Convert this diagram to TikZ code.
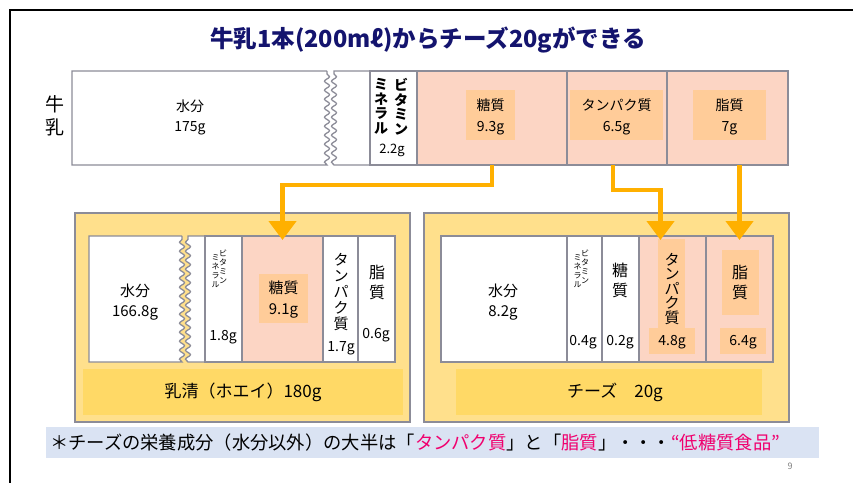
\documentclass[tikz,border=0pt]{standalone}
\usepackage{fontspec}
\setmainfont{Noto Sans CJK JP}
\usetikzlibrary{arrows.meta,decorations.pathmorphing,calc}
\definecolor{pinkfill}{RGB}{252,213,196}
\definecolor{labelbox}{RGB}{255,204,153}
\definecolor{yellowbg}{RGB}{255,224,140}
\definecolor{bandcol}{RGB}{255,217,102}
\definecolor{arrowcol}{RGB}{255,176,0}
\definecolor{titlecol}{RGB}{20,20,110}
\definecolor{footerbg}{RGB}{218,227,243}
\definecolor{pinktext}{RGB}{240,0,110}
\definecolor{bordercol}{RGB}{140,140,152}
\tikzset{
  segline/.style={draw=bordercol, line width=1.3pt},
  seg/.style={segline, inner sep=0, outer sep=0, anchor=north west},
  lbox/.style={fill=labelbox, inner sep=0, outer sep=0, draw=none},
  txt/.style={inner sep=0, outer sep=0, align=center},
  wave/.style={decoration={snake, amplitude=2.5pt, segment length=9pt}},
  arr/.style={draw=arrowcol, line width=4.5pt, line join=miter, -{Triangle[width=27pt,length=19pt]}},
}
\newcommand{\fs}[2]{\fontsize{#1}{#2}\selectfont}
\begin{document}
\begin{tikzpicture}[x=1pt,y=-1pt]
\useasboundingbox (0,0) rectangle (853,482);
% frame
\draw[line width=2.2pt] (10,483) -- (10,10) -- (854,10);
% title
\node[txt, text=titlecol, font=\fs{23.5}{26}\bfseries] (title) at (428,40) {牛乳1本(200mℓ)からチーズ20gができる};

% ===== top row (milk)
\node[txt, font=\fs{19}{23}] (milklbl) at (55,116) {牛\\乳};
\draw[segline, fill=white] (327,71) -- (72,71) -- (72,165) -- (327,165) decorate[wave]{-- (327,71)};
\draw[segline, fill=white] (334,165) decorate[wave]{-- (334,71)} -- (370,71) -- (370,165) -- cycle;
\node[seg, fill=white, minimum width=47, minimum height=94] (tvit) at (370,71) {};
\node[seg, fill=pinkfill, minimum width=150, minimum height=94] (tsugar) at (417,71) {};
\node[seg, fill=pinkfill, minimum width=100, minimum height=94] (tprot) at (567,71) {};
\node[seg, fill=pinkfill, minimum width=121, minimum height=94] (tfat) at (667,71) {};
\node[txt, font=\fs{14}{20}] (twater) at (190,117) {水分\\175g};
\node[txt, font=\fs{14}{14.5}\bfseries] (tvit1) at (401,106.5) {ビ\\タ\\ミ\\ン};
\node[txt, font=\fs{14}{14.5}\bfseries] (tvit2) at (381,106.5) {ミ\\ネ\\ラ\\ル};
\node[txt, font=\fs{13}{15}] (tvitg) at (392,150) {2.2g};
\node[lbox, minimum width=49, minimum height=50] (lsugar) at (490.5,115) {};
\node[lbox, minimum width=93, minimum height=50] (lprot) at (616.5,115) {};
\node[lbox, minimum width=73, minimum height=50] (lfat) at (729.5,115) {};
\node[txt, font=\fs{14}{21}] (tsugart) at (490.5,117) {糖質\\9.3g};
\node[txt, font=\fs{14}{21}] (tprott) at (616.5,117) {タンパク質\\6.5g};
\node[txt, font=\fs{14}{21}] (tfatt) at (729.5,117) {脂質\\7g};

% ===== whey box
\node[seg, fill=yellowbg, minimum width=335, minimum height=209] (wbox) at (75,213) {};
\draw[segline, fill=white] (182,236) -- (89,236) -- (89,362) -- (182,362) decorate[wave]{-- (182,236)};
\draw[segline, fill=white] (188,362) decorate[wave]{-- (188,236)} -- (205,236) -- (205,362) -- cycle;
\node[seg, fill=white, minimum width=37, minimum height=126] (wvit) at (205,236) {};
\node[seg, fill=pinkfill, minimum width=81, minimum height=126] (wsugar) at (242,236) {};
\node[seg, fill=white, minimum width=35, minimum height=126] (wprot) at (323,236) {};
\node[seg, fill=white, minimum width=37, minimum height=126] (wfat) at (358,236) {};
\node[fill=bandcol, inner sep=0, anchor=north west, minimum width=320, minimum height=46] (wband) at (83,369) {};
\node[txt, font=\fs{17}{20}] (wbandt) at (243,392) {乳清（ホエイ）180g};
\node[txt, font=\fs{15}{20}] (wwater) at (135,302) {水分\\166.8g};
\node[txt, font=\fs{8}{9}] (wvit1) at (223,267) {ビ\\タ\\ミ\\ン};
\node[txt, font=\fs{8}{9}] (wvit2) at (215.5,271) {ミ\\ネ\\ラ\\ル};
\node[txt, font=\fs{14}{15}] (wvitg) at (223,337) {1.8g};
\node[lbox, minimum width=49, minimum height=49] (wlsugar) at (283.5,298.5) {};
\node[txt, font=\fs{15}{21}] (wsugart) at (283.5,300) {糖質\\9.1g};
\node[txt, font=\fs{15}{16}] (wprott) at (341,292) {タ\\ン\\パ\\ク\\質};
\node[txt, font=\fs{14}{15}] (wprotg) at (341,348) {1.7g};
\node[txt, font=\fs{16}{20}] (wfatt) at (377,282) {脂\\質};
\node[txt, font=\fs{14}{15}] (wfatg) at (376,335) {0.6g};

% ===== cheese box
\node[seg, fill=yellowbg, minimum width=365, minimum height=209] (cbox) at (424,213) {};
\node[seg, fill=white, minimum width=126, minimum height=126] (cwater) at (441,236) {};
\node[seg, fill=white, minimum width=35, minimum height=126] (cvit) at (567,236) {};
\node[seg, fill=white, minimum width=37, minimum height=126] (csugar) at (602,236) {};
\node[seg, fill=pinkfill, minimum width=67, minimum height=126] (cprot) at (639,236) {};
\node[seg, fill=pinkfill, minimum width=67, minimum height=126] (cfat) at (706,236) {};
\node[fill=bandcol, inner sep=0, anchor=north west, minimum width=306, minimum height=46] (cband) at (456,369) {};
\node[txt, font=\fs{17}{20}] (cbandt) at (615,392) {チーズ　20g};
\node[txt, font=\fs{15}{20}] (cwatert) at (503,302) {水分\\8.2g};
\node[txt, font=\fs{8}{9}] (cvit1) at (585,267) {ビ\\タ\\ミ\\ン};
\node[txt, font=\fs{8}{9}] (cvit2) at (577.5,271) {ミ\\ネ\\ラ\\ル};
\node[txt, font=\fs{14}{15}] (cvitg) at (583,342) {0.4g};
\node[txt, font=\fs{16}{20}] (csugart) at (620,280) {糖\\質};
\node[txt, font=\fs{14}{15}] (csugarg) at (620,342) {0.2g};
\node[lbox, anchor=north west, minimum width=27, minimum height=89] (clprot) at (658,239) {};
\node[lbox, anchor=north west, minimum width=46, minimum height=26] (clprotg) at (649,328) {};
\node[lbox, anchor=north west, minimum width=37, minimum height=65] (clfat) at (722,250) {};
\node[lbox, anchor=north west, minimum width=46, minimum height=26] (clfatg) at (720,328) {};
\node[txt, font=\fs{15}{14.5}] (cprott) at (672,289) {タ\\ン\\パ\\ク\\質};
\node[txt, font=\fs{14}{15}] (cprotg) at (672,342) {4.8g};
\node[txt, font=\fs{16}{20}] (cfatt) at (740,282) {脂\\質};
\node[txt, font=\fs{14}{15}] (cfatg) at (743,342) {6.4g};

% ===== arrows
\draw[arr] (tsugar.south) -- ++(0,20) -| ($(wsugar.north)+(0,4)$);
\draw[arr] ($(tprot.south)+(-4,0)$) -- ++(0,25) -| ($(cprot.north)+(-12,4)$);
\draw[arr] (cfat.north |- tfat.south) -- ($(cfat.north)+(0,4)$);

% ===== footer
\node[fill=footerbg, inner sep=0, anchor=north west, minimum width=773, minimum height=31] (foot) at (46,427) {};
\node[txt, anchor=west, font=\fs{18.3}{20}] (foott) at (50,443) {＊チーズの栄養成分（水分以外）の大半は「\textcolor{pinktext}{タンパク質}」と「\textcolor{pinktext}{脂質}」・・・\textcolor{pinktext}{“低糖質食品”}};
\node[txt, text=gray, font=\fs{9}{10}] (pnum) at (790,466) {9};
\end{tikzpicture}
\end{document}
